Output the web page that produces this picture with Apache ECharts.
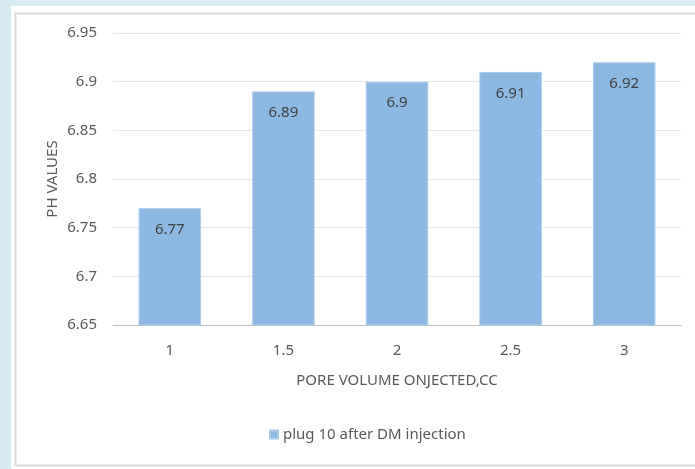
<!DOCTYPE html>
<html>
<head>
<meta charset="utf-8">
<script src="https://cdn.jsdelivr.net/npm/echarts@6/dist/echarts.min.js"></script>
<style>
html,body{margin:0;padding:0;background:#d6ebf2;}
#chart{width:695px;height:469px;}
</style>
</head>
<body>
<div id="chart"></div>
<script>
const categories = ['1', '1.5', '2', '2.5', '3'];
const phValues = [6.77, 6.89, 6.9, 6.91, 6.92];
const seriesName = 'plug 10 after DM injection';
const xAxisTitle = 'PORE VOLUME ONJECTED,CC';
const yAxisTitle = 'PH VALUES';

const FONT = '"Noto Sans", sans-serif';
const TXT = '#595959';
const chart = echarts.init(document.getElementById('chart'));
chart.setOption({
  backgroundColor: '#d6ebf2',
  animation: false,
  graphic: [{
    type: 'rect', z: -20,
    shape: { x: 11, y: 6, width: 700, height: 470 },
    style: { fill: '#ffffff' }
  }, {
    type: 'rect', z: -10,
    shape: { x: 15.5, y: 13.5, width: 700, height: 452 },
    style: { fill: '#ffffff', stroke: '#dadada', lineWidth: 2 }
  }],
  grid: { left: 113, right: 14, top: 33, bottom: 144 },
  legend: {
    bottom: 22, left: 264,
    icon: 'rect', itemWidth: 8, itemHeight: 8, itemGap: 5,
    textStyle: { color: TXT, fontSize: 15, fontFamily: FONT },
    data: [seriesName]
  },
  xAxis: {
    type: 'category', data: categories,
    name: xAxisTitle, nameLocation: 'middle', nameGap: 48,
    nameTextStyle: { color: TXT, fontSize: 15, fontFamily: FONT },
    axisLine: { lineStyle: { color: '#bfbfbf' } },
    axisTick: { show: false },
    axisLabel: { color: TXT, fontSize: 15, fontFamily: FONT, margin: 18 }
  },
  yAxis: {
    type: 'value', min: 6.65, max: 6.95, interval: 0.05,
    name: yAxisTitle, nameLocation: 'middle', nameGap: 53,
    nameMoveOverlap: false,
    nameTextStyle: { color: TXT, fontSize: 15, fontFamily: FONT },
    axisLine: { show: false }, axisTick: { show: false },
    splitLine: { lineStyle: { color: '#e8e8e8' } },
    axisLabel: { color: TXT, fontSize: 15, fontFamily: FONT, margin: 16,
      formatter: v => String(+v.toFixed(2)) }
  },
  series: [{
    name: seriesName, type: 'bar', data: phValues,
    barWidth: '55%',
    itemStyle: { color: '#8db8e1', borderColor: '#a8cbec', borderWidth: 1 },
    label: { show: true, position: 'insideTop', distance: 14,
      color: '#404040', fontSize: 15, fontFamily: FONT,
      formatter: p => String(p.value) }
  }]
});
</script>
</body>
</html>
